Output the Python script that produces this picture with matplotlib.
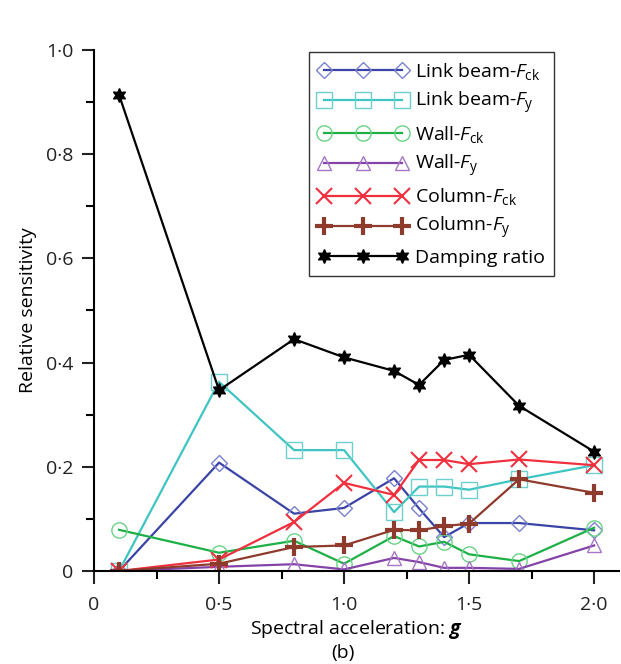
import numpy as np
import matplotlib
matplotlib.use('Agg')
import matplotlib.pyplot as plt
from matplotlib.ticker import MultipleLocator, FuncFormatter

plt.rcParams['font.family'] = ['Open Sans', 'DejaVu Sans']
plt.rcParams['mathtext.fontset'] = 'custom'
plt.rcParams['mathtext.rm'] = 'Open Sans'
plt.rcParams['mathtext.it'] = 'Open Sans:italic'
plt.rcParams['mathtext.bfit'] = 'Open Sans:italic:bold'

# spectral acceleration (g)
sa = [0.1, 0.5, 0.8, 1.0, 1.2, 1.3, 1.4, 1.5, 1.7, 2.0]

link_fck = [0.0, 0.208, 0.110, 0.121, 0.178, 0.120, 0.065, 0.092, 0.092, 0.078]
link_fy = [0.0, 0.363, 0.232, 0.232, 0.113, 0.162, 0.162, 0.156, 0.176, 0.203]
wall_fck = [0.079, 0.035, 0.058, 0.014, 0.067, 0.047, 0.056, 0.032, 0.019, 0.083]
wall_fy = [0.0, 0.008, 0.013, 0.003, 0.025, 0.017, 0.006, 0.006, 0.004, 0.049]
col_fck = [0.0, 0.022, 0.094, 0.169, 0.146, 0.213, 0.213, 0.205, 0.214, 0.203]
col_fy = [0.0, 0.014, 0.046, 0.049, 0.079, 0.078, 0.086, 0.091, 0.176, 0.150]
damping = [0.914, 0.347, 0.445, 0.410, 0.384, 0.357, 0.405, 0.415, 0.317, 0.229]

labels = [r'Link beam-$F_{\rm ck}$', r'Link beam-$F_{\rm y}$', r'Wall-$F_{\rm ck}$',
          r'Wall-$F_{\rm y}$', r'Column-$F_{\rm ck}$', r'Column-$F_{\rm y}$',
          'Damping ratio']

fs = 14

fig = plt.figure(figsize=(6.21, 6.64), dpi=100)
ax = fig.add_axes([0.1514, 0.1401, 0.8456, 0.7846])

lw = 1.6
ax.plot(sa, link_fck, '-', color='#3a44a6', lw=lw, marker='D', ms=8,
        mfc='none', mec='#7a80d0', mew=1.0, label=labels[0])
ax.plot(sa, link_fy, '-', color='#3ec4c2', lw=lw, marker='s', ms=11,
        mfc='none', mec='#6fcfcc', mew=1.0, label=labels[1])
ax.plot(sa, wall_fck, '-', color='#1db046', lw=lw, marker='o', ms=11,
        mfc='none', mec='#6ad286', mew=1.0, label=labels[2])
ax.plot(sa, wall_fy, '-', color='#8443a8', lw=lw, marker='^', ms=10,
        mfc='none', mec='#a676c6', mew=1.0, label=labels[3])
ax.plot(sa, col_fck, '-', color='#f0303e', lw=lw, marker='x', ms=12,
        mec='#f0303e', mew=1.5, label=labels[4])
ax.plot(sa, col_fy, '-', color='#8e3a2c', lw=lw, marker='+', ms=13,
        mec='#8e3a2c', mew=3.0, label=labels[5])
ax.plot(sa, damping, '-', color='black', lw=lw, marker=(6, 1, 0), ms=10,
        mfc='black', mec='black', label=labels[6])

ax.set_xlim(0, 2.1)
ax.set_ylim(0, 1.0)
for s in ['top', 'right']:
    ax.spines[s].set_visible(False)
ax.spines['left'].set_linewidth(1.5)
ax.spines['bottom'].set_linewidth(1.5)

ax.xaxis.set_major_locator(MultipleLocator(0.5))
ax.xaxis.set_minor_locator(MultipleLocator(0.25))
ax.yaxis.set_major_locator(MultipleLocator(0.2))
ax.yaxis.set_minor_locator(MultipleLocator(0.1))

def fmt(v, pos):
    if abs(v) < 1e-9:
        return '0'
    return ('%.1f' % v).replace('.', '\u00b7')

ax.xaxis.set_major_formatter(FuncFormatter(fmt))
ax.yaxis.set_major_formatter(FuncFormatter(fmt))
ax.tick_params(which='major', direction='out', length=9, width=1.5,
               labelsize=fs, colors='#222222', pad=6)
ax.tick_params(axis='x', which='major', pad=9)
ax.tick_params(which='minor', direction='out', length=6, width=1.5)

ax.set_xlabel(r'Spectral acceleration: $\boldsymbol{g}$', fontsize=fs, labelpad=3)
ax.set_ylabel('Relative sensitivity', fontsize=fs, labelpad=6)
fig.text(0.552, 0.003, '(b)', ha='center', va='bottom', fontsize=fs)

leg = ax.legend(loc='upper left', bbox_to_anchor=(0.41, 0.996), numpoints=3,
                handlelength=4.6, fontsize=fs, fancybox=False, framealpha=1,
                edgecolor='#333333', borderpad=0.45, labelspacing=0.4,
                handletextpad=0.4, borderaxespad=0)
leg.get_frame().set_linewidth(1.0)

fig.savefig('out.png', dpi=100)
